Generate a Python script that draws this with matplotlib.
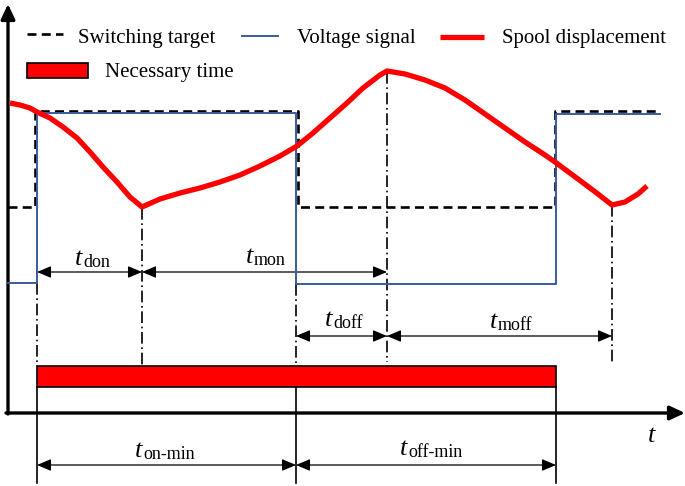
import matplotlib

matplotlib.use("Agg")
import matplotlib.pyplot as plt
from matplotlib.patches import Rectangle, FancyArrowPatch

plt.rcParams["font.family"] = ["Liberation Serif", "DejaVu Serif"]

# canvas is laid out in pixel units of the 685x486 picture (y grows downwards)
W, H = 685, 486

# event times on the t axis
t_on = 37
t_spool_low = 142
t_off = 296
t_spool_high = 387
t_on2 = 556
t_spool_low2 = 612
t_end = 660

# signal levels
volt_low, volt_high = 283, 113
target_low, target_high = 207, 111

# switching target (dashed) and voltage signal (blue)
target_x = [8, 35, 35, 298, 298, 555, 555, t_end]
target_y = [target_low, target_low, target_high, target_high, target_low, target_low, target_high, target_high]
volt_x = [8, t_on, t_on, t_off, t_off, t_on2, t_on2, t_end]
volt_y = [volt_low, volt_low, volt_high, volt_high, volt_low + 1, volt_low + 1, volt_high + 1, volt_high + 1]

# spool displacement
spool_x = [10, 20, 30, 37, 50, 63, 77, 90, 103, 117, 130, 142,
           160, 180, 200, 220, 240, 260, 280, 297, 313, 330, 347, 363, 380, 387,
           405, 425, 445, 465, 485, 505, 525, 545, 555, 578, 598, 612, 625, 638, 647]
spool_y = [103, 105, 108, 112, 118, 127, 138, 152, 167, 182, 197, 207,
           199, 193, 188, 182, 175, 166, 156, 146, 133, 118, 103, 88, 75, 71,
           74, 80, 88, 100, 114, 128, 142, 155, 162, 179, 194, 205, 202, 194, 186]

# dimension arrows: (start, end, row y, subscript)
dims = [
    (t_on, t_spool_low, 272, "don"),
    (t_spool_low, t_spool_high, 272, "mon"),
    (t_off, t_spool_high, 336, "doff"),
    (t_spool_high, t_spool_low2, 336, "moff"),
    (t_on, t_off, 465, "on-min"),
    (t_off, t_on2, 465, "off-min"),
]
# label anchor: right edge of the italic t, baseline
label_pos = {
    "don": (82, 265),
    "mon": (253, 263),
    "doff": (332, 326),
    "moff": (497, 328),
    "on-min": (142, 457),
    "off-min": (407, 455),
}

fig = plt.figure(figsize=(W / 100, H / 100), dpi=100)
ax = fig.add_axes([0, 0, 1, 1])
ax.set_xlim(0, W)
ax.set_ylim(H, 0)
ax.axis("off")

# axes with arrows
axis_style = dict(arrowstyle="-|>,head_length=9,head_width=4.2", color="black",
                  lw=2.4, shrinkA=0, shrinkB=0, mutation_scale=1)
ax.add_patch(FancyArrowPatch((8, 414), (8, 4), **axis_style))
ax.add_patch(FancyArrowPatch((6, 413), (685, 413), **axis_style))
ax.text(655, 442, "t", fontsize=19, style="italic", ha="right", va="baseline")

# necessary time bar
ax.add_patch(Rectangle((t_on, 366), t_on2 - t_on, 21, facecolor="#ff0000",
                       edgecolor="black", lw=1.2, zorder=3))

# guide lines
dashdot = (0, (7, 2.2, 1, 2.2))
for x, y0, y1 in [(t_on, volt_low, 366), (t_spool_low, 208, 366), (t_off, volt_low + 1, 366),
                  (t_spool_high, 72, 362), (t_spool_low2, 205, 363)]:
    ax.plot([x, x], [y0, y1], color="black", lw=1.2, ls=dashdot, zorder=1)
for x in [t_on, t_off, t_on2]:
    ax.plot([x, x], [387, 483], color="black", lw=1.2, zorder=1)

# signals
ax.plot(target_x, target_y, color="black", lw=1.9, ls=(0, (3.4, 2)), zorder=2)
ax.plot(volt_x, volt_y, color="#3b5b9b", lw=1.4, zorder=2)
ax.plot(spool_x, spool_y, color="#ff0000", lw=3.8, solid_joinstyle="round",
        solid_capstyle="butt", zorder=4)

# dimension arrows and labels
dim_style = dict(arrowstyle="<|-|>,head_length=8.5,head_width=3.6", color="black",
                 lw=0.9, shrinkA=0, shrinkB=0, mutation_scale=1)
for a, b, y, sub in dims:
    ax.add_patch(FancyArrowPatch((a, y), (b, y), **dim_style))
    lx, ly = label_pos[sub]
    ax.text(lx, ly, "t", fontsize=19, style="italic", ha="right", va="baseline")
    ax.text(lx + 1, ly + 2, sub, fontsize=13, ha="left", va="baseline")

# legend drawn by hand
ax.plot([27, 63], [34, 34], color="black", lw=1.9, ls=(0, (3.4, 2)))
ax.text(78, 43, "Switching target", fontsize=15, va="baseline")
ax.plot([242, 278], [36, 36], color="#3b5b9b", lw=1.4)
ax.text(297, 43, "Voltage signal", fontsize=15, va="baseline")
ax.plot([440, 484], [37, 37], color="#ff0000", lw=3.8, solid_capstyle="butt")
ax.text(502, 43, "Spool displacement", fontsize=15, va="baseline")
ax.add_patch(Rectangle((27, 63), 61, 15, facecolor="#ff0000", edgecolor="black", lw=1.2))
ax.text(105, 77, "Necessary time", fontsize=15, va="baseline")

fig.savefig("out.png", dpi=100)
plt.close(fig)
